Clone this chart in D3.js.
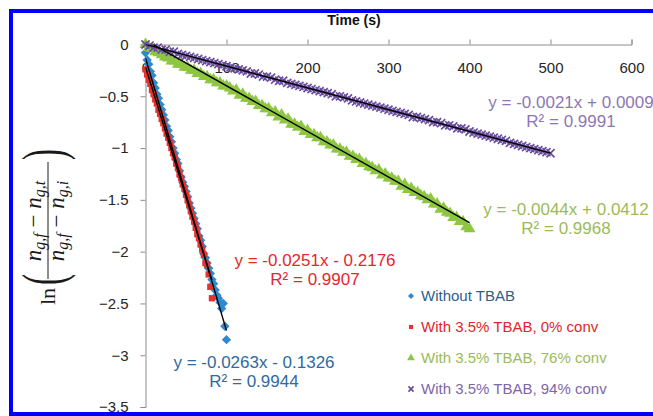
<!DOCTYPE html>
<html><head><meta charset="utf-8">
<script src="https://cdn.jsdelivr.net/npm/d3@7"></script>
<style>html,body{margin:0;background:#fff;overflow:hidden}svg{display:block}</style>
</head><body><svg id="c" width="653" height="416"></svg>
<script>
// ---------- data ----------
const xTicks = [0, 100, 200, 300, 400, 500, 600];
const yTicks = [0, -0.5, -1, -1.5, -2, -2.5, -3, -3.5];
const seriesNames = ["Without TBAB", "With 3.5% TBAB, 0% conv", "With 3.5% TBAB, 76% conv", "With 3.5% TBAB, 94% conv"];

const blueStart = 0, blueStep = 2;
const blueValues = [-0.08,-0.15,-0.19,-0.26,-0.30,-0.37,-0.42,-0.48,-0.52,-0.58,-0.63,-0.68,-0.73,-0.79,-0.83,-0.89,-0.94,-1.00,-1.05,-1.11,-1.15,-1.22,-1.28,-1.33,-1.37,-1.42,-1.47,-1.53,-1.58,-1.63,-1.68,-1.73,-1.78,-1.85,-1.89,-1.95,-2.02,-2.06,-2.11,-2.16,-2.21,-2.27,-2.31,-2.37,-2.42,-2.45,-2.49,-2.55,-2.50,-2.72,-2.85];

const redStart = 0, redStep = 2;
const redValues = [-0.24,-0.29,-0.34,-0.38,-0.44,-0.48,-0.53,-0.57,-0.63,-0.67,-0.72,-0.76,-0.81,-0.86,-0.90,-0.95,-1.00,-1.05,-1.09,-1.15,-1.19,-1.25,-1.29,-1.35,-1.39,-1.45,-1.50,-1.55,-1.61,-1.66,-1.71,-1.77,-1.83,-1.87,-1.93,-1.98,-2.03,-2.11,-2.13,-2.22,-2.34,-2.45];

const greenStart = 0, greenStep = 4;
const greenValues = [0.00,-0.03,-0.04,-0.07,-0.08,-0.10,-0.12,-0.13,-0.16,-0.16,-0.19,-0.19,-0.22,-0.22,-0.25,-0.25,-0.28,-0.28,-0.31,-0.31,-0.34,-0.34,-0.37,-0.37,-0.40,-0.40,
-0.42,-0.45,-0.44,-0.49,-0.48,-0.52,-0.52,-0.55,-0.55,-0.59,
-0.59,-0.62,-0.62,-0.66,-0.65,-0.70,-0.68,-0.73,-0.72,-0.77,
-0.77,-0.80,-0.79,-0.84,-0.83,-0.87,-0.87,-0.90,-0.90,-0.94,
-0.94,-0.97,-0.97,-1.01,-1.01,-1.04,-1.04,-1.08,-1.08,-1.11,
-1.11,-1.15,-1.15,-1.18,-1.19,-1.22,-1.21,-1.26,-1.25,-1.29,
-1.29,-1.32,-1.32,-1.37,-1.35,-1.40,-1.39,-1.43,-1.43,-1.46,
-1.47,-1.50,-1.49,-1.54,-1.54,-1.59,-1.58,-1.62,-1.63,-1.67,
-1.67,-1.71,-1.71,-1.76,-1.78];

const purpleStart = 0, purpleStep = 5;
const purpleValues = [0.00,-0.01,-0.03,-0.03,-0.05,-0.05,-0.07,-0.07,-0.09,-0.10,
-0.11,-0.12,-0.13,-0.14,-0.15,-0.16,-0.17,-0.18,-0.19,-0.20,
-0.21,-0.22,-0.23,-0.24,-0.25,-0.26,-0.28,-0.28,-0.29,-0.31,
-0.31,-0.32,-0.34,-0.35,-0.35,-0.37,-0.38,-0.39,-0.40,-0.41,
-0.42,-0.43,-0.44,-0.45,-0.46,-0.47,-0.48,-0.50,-0.50,-0.51,
-0.52,-0.54,-0.55,-0.56,-0.57,-0.58,-0.59,-0.60,-0.61,-0.62,
-0.63,-0.64,-0.65,-0.66,-0.67,-0.68,-0.70,-0.70,-0.71,-0.72,
-0.73,-0.75,-0.75,-0.76,-0.78,-0.78,-0.79,-0.81,-0.81,-0.82,
-0.84,-0.85,-0.86,-0.87,-0.88,-0.89,-0.90,-0.91,-0.92,-0.93,
-0.95,-0.96,-0.97,-0.98,-0.99,-1.00,-1.01,-1.02,-1.03,-1.04,
-1.05];

const fitSlopes = [-0.0263, -0.0251, -0.0044, -0.0021];
const fitIntercepts = [-0.1326, -0.2176, 0.0412, 0.0009];
const eqTexts = ["y = -0.0263x - 0.1326", "y = -0.0251x - 0.2176", "y = -0.0044x + 0.0412", "y = -0.0021x + 0.0009"];
const r2Texts = ["R² = 0.9944", "R² = 0.9907", "R² = 0.9968", "R² = 0.9991"];

// ---------- styling ----------
const markerColors = ["#2F88D0", "#E5322F", "#8DC641", "#6A4C9E"];
const legendColors = ["#2E5E8E", "#E0262B", "#9BBB59", "#8066A6"];
const eqColors = ["#2F6AA0", "#E3272D", "#9BBB59", "#8E77B5"];
const eqPos = [[254, 368], [315, 266], [566, 215], [571, 108]];
const legendY = [296, 327, 358, 389];

const svg = d3.select("#c");
const x = d3.scaleLinear().domain([0, 600]).range([145.5, 631.5]);
const y = d3.scaleLinear().domain([0, -3.5]).range([44.5, 407]);

const series = [
  {start: blueStart, step: blueStep, values: blueValues, shape: "diamond"},
  {start: redStart, step: redStep, values: redValues, shape: "square"},
  {start: greenStart, step: greenStep, values: greenValues, shape: "triangle"},
  {start: purpleStart, step: purpleStep, values: purpleValues, shape: "cross"}
].map((s, i) => ({...s, i, pts: s.values.map((v, k) => [s.start + k * s.step, v])}));

// frame: left, top and bottom edges only (the right edge is cut off in the reference)
svg.append("line").attr("x1", 11).attr("x2", 11).attr("y1", 9).attr("y2", 416).attr("stroke", "#0000FF").attr("stroke-width", 4);
svg.append("line").attr("x1", 9).attr("x2", 653).attr("y1", 11).attr("y2", 11).attr("stroke", "#0000FF").attr("stroke-width", 4);
svg.append("line").attr("x1", 9).attr("x2", 653).attr("y1", 414).attr("y2", 414).attr("stroke", "#0000FF").attr("stroke-width", 4);

// axes
const fontSans = "'Liberation Sans', Arial, sans-serif";
const xAxis = svg.append("g").attr("transform", `translate(0,${y(0)})`)
  .call(d3.axisBottom(x).tickValues(xTicks).tickSize(-5).tickPadding(18).tickFormat(d3.format("d")));
const yAxis = svg.append("g").attr("transform", `translate(${x(0)},0)`)
  .call(d3.axisLeft(y).tickValues(yTicks).tickSize(5).tickPadding(12).tickFormat(d => d3.format("")(d)));
[xAxis, yAxis].forEach(a => {
  a.select(".domain").attr("stroke", "#8c8c8c");
  a.selectAll(".tick line").attr("stroke", "#8c8c8c");
  a.selectAll("text").attr("font-family", fontSans).attr("font-size", 15).attr("fill", "#262626");
});

svg.append("text").attr("x", 354).attr("y", 25).attr("text-anchor", "middle")
  .attr("font-family", fontSans).attr("font-weight", "bold").attr("font-size", 14).attr("fill", "#111")
  .text("Time (s)");

// markers
function drawMarker(g, shape, color, scale) {
  if (shape === "cross") {
    g.append("path").attr("d", d3.symbol().type(d3.symbolTimes).size(44 * scale)())
      .attr("fill", "none").attr("stroke", color).attr("stroke-width", 1.7);
  } else if (shape === "diamond") {
    g.append("path").attr("transform", "rotate(45)")
      .attr("d", d3.symbol().type(d3.symbolSquare).size(44 * scale)()).attr("fill", color);
  } else if (shape === "square") {
    g.append("path").attr("d", d3.symbol().type(d3.symbolSquare).size(40 * scale)()).attr("fill", color);
  } else {
    g.append("path").attr("d", d3.symbol().type(d3.symbolTriangle).size(62 * scale)()).attr("fill", color);
  }
}
series.forEach(s => {
  const g = svg.append("g");
  s.pts.forEach(p => {
    const m = g.append("g").attr("transform", `translate(${x(p[0])},${y(p[1])})`);
    drawMarker(m, s.shape, markerColors[s.i], 1);
  });
});

// trendlines
svg.append("clipPath").attr("id", "plot").append("rect")
  .attr("x", x(0)).attr("y", y(0)).attr("width", x(600) - x(0)).attr("height", y(-3.5) - y(0));
const line = d3.line().x(d => x(d[0])).y(d => y(d[1]));
series.forEach(s => {
  const tEnd = s.pts[s.pts.length - 1][0];
  const a = fitSlopes[s.i], b = fitIntercepts[s.i];
  svg.append("path").attr("clip-path", "url(#plot)")
    .attr("d", line([[0, b], [tEnd, a * tEnd + b]]))
    .attr("stroke", "#000").attr("stroke-width", 1.4).attr("fill", "none");
});

// equations
series.forEach(s => {
  const [cx, by] = eqPos[s.i];
  const t = svg.append("text").attr("text-anchor", "middle").attr("font-family", fontSans)
    .attr("font-size", 17).attr("fill", eqColors[s.i]);
  t.append("tspan").attr("x", cx).attr("y", by).text(eqTexts[s.i]);
  t.append("tspan").attr("x", cx).attr("y", by + 19).text(r2Texts[s.i]);
});

// legend
series.forEach(s => {
  const g = svg.append("g").attr("transform", `translate(411,${legendY[s.i]})`);
  const m = g.append("g");
  drawMarker(m, s.shape, markerColors[s.i], 0.42);
  g.append("text").attr("x", 10).attr("y", 5).attr("font-family", fontSans).attr("font-size", 15)
    .attr("fill", legendColors[s.i]).text(seriesNames[s.i]);
});

// y-axis title (math)
const serif = "'Liberation Serif', 'DejaVu Serif', serif";
const yl = svg.append("g").attr("transform", "translate(48,222) rotate(-90)")
  .attr("font-family", serif).attr("fill", "#1a1a1a");
yl.append("text").attr("x", -83).attr("y", 7).attr("font-size", 22).text("ln");
yl.append("text").attr("transform", "translate(-63,15) scale(0.55,1)").attr("font-size", 60).text("(");
yl.append("text").attr("transform", "translate(62,15) scale(0.55,1)").attr("font-size", 60).text(")");
function frac(yb, sub2) {
  const t = yl.append("text").attr("x", 1).attr("y", yb).attr("text-anchor", "middle").attr("font-size", 23);
  t.append("tspan").attr("font-style", "italic").text("n");
  t.append("tspan").attr("font-style", "italic").attr("font-size", 16).attr("dy", 4).text("g,f");
  t.append("tspan").attr("dy", -4).text(" − ");
  t.append("tspan").attr("font-style", "italic").text("n");
  t.append("tspan").attr("font-style", "italic").attr("font-size", 16).attr("dy", 4).text("g," + sub2);
}
frac(-7, "t");
frac(16, "i");
yl.append("line").attr("x1", -57).attr("x2", 60).attr("y1", 0).attr("y2", 0).attr("stroke", "#1a1a1a").attr("stroke-width", 1);
</script></body></html>
